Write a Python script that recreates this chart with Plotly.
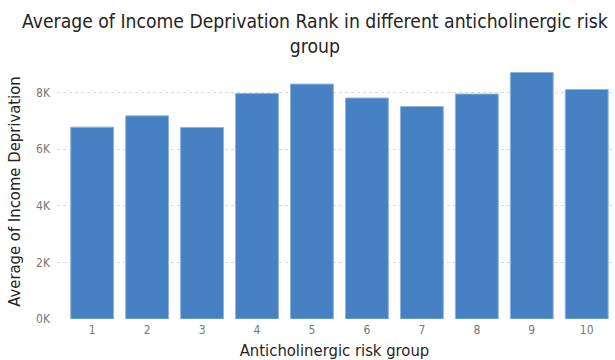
import plotly.graph_objects as go

# Average income deprivation rank per anticholinergic risk group
risk_groups = ["1", "2", "3", "4", "5", "6", "7", "8", "9", "10"]
avg_income_deprivation = [6770, 7170, 6760, 7960, 8290, 7800, 7500, 7940, 8700, 8100]
y_tick_values = [0, 2000, 4000, 6000, 8000]
y_tick_labels = ["0K", "2K", "4K", "6K", "8K"]

font_family = "DejaVu Sans Condensed, DejaVu Sans, sans-serif"

fig = go.Figure(
    go.Bar(
        x=risk_groups,
        y=avg_income_deprivation,
        marker=dict(color="#4581C3", line=dict(color="#8DB3DE", width=1)),
        hovertemplate="%{x}: %{y}<extra></extra>",
    )
)

fig.update_layout(
    width=615,
    height=360,
    margin=dict(l=57, r=3, t=64, b=41),
    paper_bgcolor="white",
    plot_bgcolor="white",
    bargap=0.22,
    showlegend=False,
    font=dict(family=font_family, color="#605E5C"),
    title=dict(
        text="Average of Income Deprivation Rank in different anticholinergic risk<br>group",
        x=0.512,
        xanchor="center",
        xref="container",
        yref="container",
        y=0.922,
        yanchor="bottom",
        font=dict(family=font_family, size=19.2, color="#252423"),
    ),
)

fig.update_xaxes(
    type="category",
    range=[-0.64, 9.46],
    showgrid=False,
    showline=False,
    zeroline=False,
    ticks="",
    ticklabelstandoff=2,
    tickfont=dict(size=12, color="#777777"),
    title=dict(text="Anticholinergic risk group", font=dict(size=16.5, color="#252423"), standoff=9),
)

fig.update_yaxes(
    range=[0, 9000],
    tickvals=y_tick_values,
    ticktext=y_tick_labels,
    showgrid=True,
    gridcolor="#D9D9D9",
    griddash="dot",
    gridwidth=1,
    zeroline=False,
    showline=False,
    ticks="",
    ticklabelstandoff=6,
    tickfont=dict(size=12, color="#777777"),
    title=dict(text="Average of Income Deprivation", font=dict(size=16.5, color="#252423"), standoff=11),
)

fig.write_html("out.html")
